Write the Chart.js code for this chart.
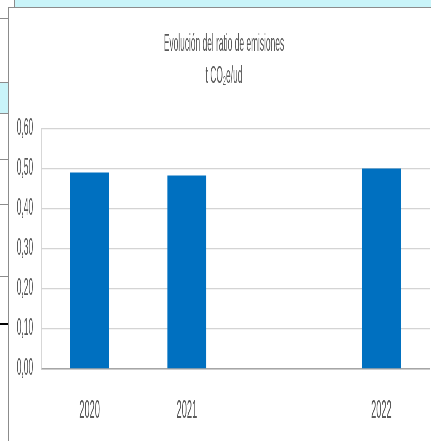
<!DOCTYPE html>
<html>
<head>
<meta charset="utf-8">
<script src="https://cdn.jsdelivr.net/npm/chart.js@4.4.1/dist/chart.umd.min.js"></script>
<style>
  html, body { margin: 0; padding: 0; background: #fff; overflow: hidden; width: 431px; height: 441px; }
  .deco { position: absolute; }
  #wrap { position: absolute; left: 0; top: 0; width: 1197px; height: 441px; transform: scaleX(0.36007); transform-origin: 0 0; }
</style>
</head>
<body>
<!-- spreadsheet bits around the chart frame -->
<div class="deco" style="left:14px;top:0;width:417px;height:7px;background:#c9f4f9;border-left:1px solid #8c8c8c;"></div>
<div class="deco" style="left:0;top:82px;width:8px;height:31px;background:#c9f4f9;"></div>
<div class="deco" style="left:0;top:18px;width:8px;height:1px;background:#8c8c8c;"></div>
<div class="deco" style="left:0;top:82px;width:8px;height:1px;background:#8c8c8c;"></div>
<div class="deco" style="left:0;top:113px;width:8px;height:1px;background:#8c8c8c;"></div>
<div class="deco" style="left:0;top:159px;width:8px;height:1px;background:#8c8c8c;"></div>
<div class="deco" style="left:0;top:204px;width:8px;height:1px;background:#8c8c8c;"></div>
<div class="deco" style="left:0;top:276px;width:8px;height:1px;background:#8c8c8c;"></div>
<div class="deco" style="left:0;top:323px;width:8px;height:2px;background:#000;"></div>
<div class="deco" style="left:8px;top:7px;width:440px;height:440px;border-top:1px solid #8c8c8c;border-left:1px solid #8c8c8c;"></div>

<div id="wrap"><canvas id="chart"></canvas></div>

<script>
// ===========================
// DATA
// ===========================
const years = ['2020', '2021', '', '2022'];
const ratios = [0.491, 0.484, null, 0.501];
const titleLines = ['Evolución del ratio de emisiones', 't CO\u2082e/ud'];
const yMin = 0;
const yMax = 0.6;
const yStep = 0.1;

const grey = '#595959';
const fontFamily = '"Liberation Sans", Arial, sans-serif';

// y labels are wider than the axis box we force, so widen its clip area
const unclipY = {
  id: 'unclipY',
  afterLayout(chart) {
    chart.scales.y.left = 0;
  }
};

// ===========================
// CHART (drawn wide, squeezed by CSS like the reference)
// ===========================
const ctx = document.getElementById('chart').getContext('2d');
new Chart(ctx, {
  type: 'bar',
  data: {
    labels: years,
    datasets: [{
      data: ratios,
      backgroundColor: '#0070c0',
      borderWidth: 0,
      barPercentage: 0.4,
      categoryPercentage: 1
    }]
  },
  options: {
    responsive: true,
    maintainAspectRatio: false,
    devicePixelRatio: 1,
    animation: false,
    layout: { padding: { left: 50, right: 3, top: 0, bottom: 0 } },
    plugins: {
      legend: { display: false },
      tooltip: { enabled: false },
      title: {
        display: true,
        text: titleLines,
        color: grey,
        font: { family: fontFamily, size: 23.3, weight: 'normal', lineHeight: 1.373 },
        padding: { top: 29, bottom: 36 }
      }
    },
    scales: {
      x: {
        afterFit: s => { s.height = 72; },
        grid: { display: false, drawTicks: false },
        border: { display: true, color: '#a6a6a6', width: 1.5 },
        ticks: {
          color: grey,
          padding: 26,
          maxRotation: 0,
          autoSkip: false,
          font: { family: fontFamily, size: 25.7 }
        }
      },
      y: {
        min: yMin,
        max: yMax,
        afterFit: s => { s.width = 63.9; },
        grid: { color: '#d4d4d4', lineWidth: 1.3, drawTicks: false },
        border: { display: true, color: '#d0d0d0', width: 2.8 },
        ticks: {
          stepSize: yStep,
          color: grey,
          padding: 22,
          font: { family: fontFamily, size: 23.3 },
          callback: v => v.toFixed(2).replace('.', ',')
        }
      }
    }
  },
  plugins: [unclipY]
});
</script>
</body>
</html>
